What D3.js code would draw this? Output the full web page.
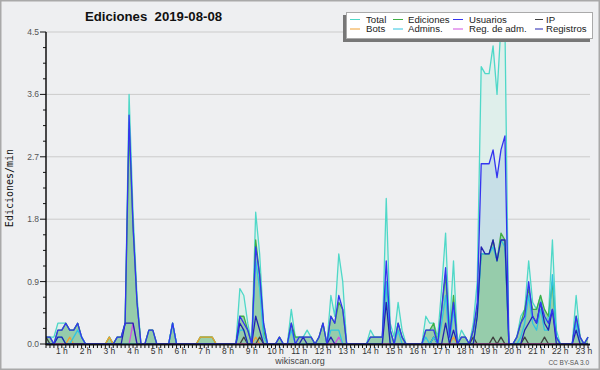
<!DOCTYPE html>
<meta charset="utf-8">
<title>Ediciones 2019-08-08</title>
<style>
html, body { margin: 0; padding: 0; background: #eeeff1; overflow: hidden; }
text { font-family: "Liberation Sans", Arial, sans-serif; }
</style>
<svg id="chart" width="600" height="370"></svg>
<script src="https://d3js.org/d3.v7.min.js"></script>
<script>

// sample times, minutes after midnight (one point every 10 min)
var times = d3.range(20, 1391, 10);

var hourLabels = ["1 h","2 h","3 h","4 h","5 h","6 h","7 h","8 h","9 h","10 h","11 h","12 h",
                  "13 h","14 h","15 h","16 h","17 h","18 h","19 h","20 h","21 h","22 h","23 h"];
var yTicks = [0.0, 0.9, 1.8, 2.7, 3.6, 4.5];

var total = [
  .1,.1,.1,.3,.3,.3,.2,.2,.3,.1,0,0,
  0,0,0,0,.1,0,.1,.1,.3,3.6,1.9,.7,
  0,0,.2,.2,0,0,0,0,.3,0,0,0,
  0,0,0,.1,.1,.1,.1,0,0,0,0,0,
  0,.8,.7,.3,0,1.9,1.3,.3,0,0,0,.1,
  0,0,.5,.1,.1,.1,.2,.1,0,.1,.3,0,
  .7,.4,1.3,.9,0,0,0,0,0,0,.2,.1,
  .1,.1,2.1,.3,.1,.6,.2,0,0,0,0,0,
  .4,.3,.3,.1,.8,1.6,.2,1.2,0,.2,.1,0,
  .3,.9,4.0,3.9,3.9,4.3,3.6,4.6,4.6,0,0,.1,
  .4,.5,1.2,.6,.5,.7,.3,.4,1.5,.2,0,0,
  0,0,.7,.1,0,.1];

var ediciones = [
  .1,.1,0,.2,.2,.3,.2,.2,.3,.1,0,0,
  0,0,0,0,.1,0,.1,.1,.3,3.1,1.7,.6,
  0,0,.2,.2,0,0,0,0,.3,0,0,0,
  0,0,0,.1,.1,.1,.1,0,0,0,0,0,
  0,.4,.4,.2,0,1.5,1.0,.2,0,0,0,.1,
  0,0,.3,.1,.1,.1,.1,.1,0,.1,.3,0,
  .4,.3,.6,.5,0,0,0,0,0,0,.1,.1,
  .1,.1,.9,.2,0,.3,.1,0,0,0,0,0,
  .2,.2,.3,0,.5,1.0,.1,.7,0,.1,.1,0,
  .2,.5,1.3,1.3,1.3,1.5,1.2,1.6,1.5,0,0,.1,
  .3,.5,.8,.5,.5,.7,.5,.4,.9,.1,0,0,
  0,0,.4,.1,0,.1];

var usuarios = [
  .1,.1,0,.2,.2,.3,.2,.2,.3,.1,0,0,
  0,0,0,0,0,0,.1,.1,.3,3.3,1.7,.6,
  0,0,.2,.2,0,0,0,0,.3,0,0,0,
  0,0,0,0,0,0,0,0,0,0,0,0,
  0,.4,.3,.2,0,1.4,1.0,.3,0,0,0,.1,
  0,0,.3,0,.1,.1,.1,.1,0,.1,.3,0,
  .4,.3,.7,.5,0,0,0,0,0,0,.1,.1,
  .1,.1,1.2,.2,0,.3,.1,0,0,0,0,0,
  .2,.2,.2,0,.5,1.1,.1,.6,0,.1,.1,0,
  .2,.6,2.6,2.6,2.6,2.8,2.4,2.8,3.0,0,0,.1,
  .3,.4,.9,.4,.3,.6,.4,.3,.5,.1,0,0,
  0,0,.4,.1,0,.1];

var ip = [
  .1,0,0,0,0,0,0,0,0,0,0,0,
  0,0,0,0,0,0,0,0,0,0,0,0,
  0,0,0,0,0,0,0,0,0,0,0,0,
  0,0,0,0,0,0,0,0,0,0,0,0,
  0,0,.1,0,0,0,.1,0,0,0,0,0,
  0,0,0,0,0,0,0,0,0,0,0,0,
  0,0,0,0,0,0,0,0,0,0,0,0,
  0,0,0,0,0,0,0,0,0,0,0,0,
  0,0,.1,0,0,0,0,0,0,0,0,0,
  .1,0,0,0,0,.1,0,.1,0,0,0,0,
  0,.1,0,0,0,0,.1,0,0,0,0,0,
  0,0,0,0,0,0];

var bots = [
  0,0,0,0,0,0,.1,0,0,0,0,0,
  0,0,0,0,.1,0,0,0,0,0,0,0,
  0,0,0,0,0,0,0,0,0,0,0,0,
  0,0,0,.1,.1,.1,.1,0,0,0,0,0,
  0,0,0,0,0,.1,0,0,0,0,0,0,
  0,0,0,0,0,0,0,0,0,0,0,0,
  0,0,0,0,0,0,0,0,0,0,0,0,
  0,0,0,0,0,0,0,0,0,0,0,0,
  0,0,0,0,0,0,0,.1,0,0,0,0,
  0,0,0,0,0,0,0,0,0,0,0,0,
  0,0,0,0,0,0,0,0,0,0,0,0,
  0,0,0,0,0,0];

var admins = [
  0,0,0,.1,.1,0,0,.1,.2,.1,0,0,
  0,0,0,0,0,0,0,0,0,0,0,0,
  0,0,0,0,0,0,0,0,.3,0,0,0,
  0,0,0,0,0,0,0,0,0,0,0,0,
  0,.2,.2,0,0,1.2,.8,.1,0,0,0,0,
  0,0,.2,0,0,0,0,0,0,0,0,0,
  .2,.2,.2,0,0,0,0,0,0,0,0,0,
  0,0,.9,0,0,.2,0,0,0,0,0,0,
  .1,0,.1,0,.3,.7,0,.5,0,0,0,0,
  0,.4,1.3,1.3,1.3,1.4,1.2,1.5,1.4,0,0,0,
  .1,.3,.7,.3,.2,.5,.2,.2,1.0,.1,0,0,
  0,0,.3,0,0,0];

var regAdm = [
  0,0,0,0,0,0,0,0,0,0,0,0,
  0,0,0,0,0,0,0,0,0,0,.3,0,
  0,0,0,0,0,0,0,0,0,0,0,0,
  0,0,0,0,0,0,0,0,0,0,0,0,
  0,0,0,0,0,0,0,0,0,0,0,0,
  0,0,0,0,0,0,0,0,0,0,0,0,
  0,0,.1,0,0,0,0,0,0,0,0,0,
  0,0,0,0,0,0,0,0,0,0,0,0,
  0,0,0,0,0,0,0,0,0,0,0,0,
  0,0,0,0,0,0,0,0,0,0,0,0,
  0,0,0,0,0,0,0,0,0,0,0,0,
  0,0,0,0,0,0];

var registros = [
  0,0,0,.1,.1,0,0,0,0,0,0,0,
  0,0,0,0,0,0,0,0,.3,.3,.3,0,
  0,0,0,0,0,0,0,0,0,0,0,0,
  0,0,0,0,0,0,0,0,0,0,0,0,
  0,.3,.2,0,0,.4,.2,0,0,0,0,0,
  0,0,0,0,0,.1,0,0,0,0,0,0,
  .1,0,0,0,0,0,0,0,0,0,0,0,
  0,0,.6,0,0,0,0,0,0,0,0,0,
  0,0,0,0,0,.3,0,.2,0,0,0,0,
  0,.4,1.4,1.3,1.3,1.5,1.2,1.5,1.5,0,0,0,
  0,.2,.3,.4,.3,.6,.3,.2,.5,0,0,0,
  0,0,.2,0,0,0];

var series = [
  {name: "Total",        values: total,     color: "#4fd8c8", fill: "#dcefea"},
  {name: "Ediciones",    values: ediciones, color: "#3fae45", fill: "#8dc9a0"},
  {name: "Usuarios",     values: usuarios,  color: "#3434f0", fill: "#c3dce6"},
  {name: "IP",           values: ip,        color: "#404040"},
  {name: "Bots",         values: bots,      color: "#f0a030"},
  {name: "Admins.",      values: admins,    color: "#30c4e0"},
  {name: "Reg. de adm.", values: regAdm,    color: "#d050e0"},
  {name: "Registros",    values: registros, color: "#2222b0"}
];
var byName = {};
series.forEach(function(s) { byName[s.name] = s; });

var svg = d3.select("#chart");
var W = 600, H = 370;

svg.append("rect").attr("x", 0.75).attr("y", 0.75).attr("width", W - 1.5).attr("height", H - 1.5)
   .attr("fill", "#eeeff1").attr("stroke", "#a9a9a9").attr("stroke-width", 1.5);

var pl = 46, pr = 590, pt = 32, pb = 344;

var x = d3.scaleLinear().domain([20, 1395]).range([pl, pr]);
var y = d3.scaleLinear().domain([0, 4.5]).range([pb, pt]);

// grid
svg.append("g").selectAll("line").data(yTicks.slice(1)).enter().append("line")
   .attr("x1", pl).attr("x2", pr)
   .attr("y1", function(d) { return y(d); }).attr("y2", function(d) { return y(d); })
   .attr("stroke", "#cbcbcb").attr("stroke-width", 1);

svg.append("clipPath").attr("id", "plotclip").append("rect")
   .attr("x", pl).attr("y", pt).attr("width", pr - pl).attr("height", pb - pt);

var plot = svg.append("g").attr("clip-path", "url(#plotclip)");

function area(vals) {
  return d3.area()
    .x(function(d, i) { return x(times[i]); })
    .y0(y(0)).y1(function(d) { return y(d); })(vals);
}
function line(vals) {
  return d3.line()
    .x(function(d, i) { return x(times[i]); })
    .y(function(d) { return y(d); })(vals);
}

// filled areas
["Total", "Usuarios", "Ediciones"].forEach(function(n) {
  var s = byName[n];
  plot.append("path").attr("d", area(s.values)).attr("fill", s.fill).attr("fill-opacity", 0.85);
});

// lines
["Total", "Ediciones", "Bots", "IP", "Reg. de adm.", "Admins.", "Registros", "Usuarios"].forEach(function(n) {
  var s = byName[n];
  plot.append("path").attr("d", line(s.values))
    .attr("fill", "none").attr("stroke", s.color).attr("stroke-width", 1.3)
    .attr("stroke-linejoin", "round");
});

// y axis
var yMinor = d3.range(0, 4.5001, 0.225);
svg.append("g").selectAll("line").data(yMinor).enter().append("line")
   .attr("x1", function(d, i) { return i % 4 === 0 ? pl - 6 : pl - 3; }).attr("x2", pl)
   .attr("y1", function(d) { return y(d); }).attr("y2", function(d) { return y(d); })
   .attr("stroke", "#111").attr("stroke-width", 1);
svg.append("line").attr("x1", pl).attr("x2", pl).attr("y1", pt).attr("y2", pb + 1)
   .attr("stroke", "#111").attr("stroke-width", 1.5);
svg.append("g").selectAll("text").data(yTicks).enter().append("text")
   .attr("x", pl - 7).attr("y", function(d) { return y(d) + 3; })
   .attr("text-anchor", "end").attr("font-size", 8.5).attr("fill", "#555")
   .text(function(d) { return d.toFixed(1); });

svg.append("text")
   .attr("transform", "translate(13,188) rotate(-90)")
   .attr("text-anchor", "middle")
   .style("font-family", "'DejaVu Sans Mono', monospace").attr("font-size", 10).attr("fill", "#111")
   .text("Ediciones/min");

// x axis
var xTicks = d3.range(20, 1396, 10);
svg.append("g").selectAll("line").data(xTicks).enter().append("line")
   .attr("x1", function(d) { return x(d); }).attr("x2", function(d) { return x(d); })
   .attr("y1", pb).attr("y2", pb + 4)
   .attr("stroke", "#111").attr("stroke-width", 1);
svg.append("line").attr("x1", pl).attr("x2", pr).attr("y1", pb + 0.5).attr("y2", pb + 0.5)
   .attr("stroke", "#111").attr("stroke-width", 2);
svg.append("g").selectAll("text").data(hourLabels).enter().append("text")
   .attr("x", function(d, i) { return x((i + 1) * 60); }).attr("y", 353.5)
   .attr("text-anchor", "middle").attr("font-size", 8.5).attr("fill", "#333")
   .text(function(d) { return d; });

// titles
svg.append("text").attr("x", 85).attr("y", 21)
   .attr("font-size", 13.2).attr("font-weight", "bold").attr("fill", "#111")
   .style("white-space", "pre").text("Ediciones  2019-08-08");

svg.append("text").attr("x", 300).attr("y", 364)
   .attr("text-anchor", "middle").attr("font-size", 9).attr("fill", "#444")
   .text("wikiscan.org");
svg.append("text").attr("x", 589).attr("y", 364.5)
   .attr("text-anchor", "end").attr("font-size", 6.5).attr("fill", "#555")
   .text("CC BY-SA 3.0");

// legend
var lg = svg.append("g");
lg.append("rect").attr("x", 343).attr("y", 15).attr("width", 247).attr("height", 27).attr("fill", "#777");
lg.append("rect").attr("x", 346.5).attr("y", 12.5).attr("width", 246).attr("height", 26)
  .attr("fill", "#fff").attr("stroke", "#aaa").attr("stroke-width", 1);
var legendOrder = ["Total", "Ediciones", "Usuarios", "IP", "Bots", "Admins.", "Reg. de adm.", "Registros"];
var colX = [350, 393, 453, 535];
var textX = [366, 408, 469, 546];
legendOrder.forEach(function(n, i) {
  var s = byName[n], c = i % 4, r = Math.floor(i / 4);
  var yy = r === 0 ? 19.5 : 29;
  lg.append("line").attr("x1", colX[c]).attr("x2", c === 3 ? colX[c] + 8 : colX[c] + 10)
    .attr("y1", yy).attr("y2", yy)
    .attr("stroke", s.color).attr("stroke-width", 1);
  lg.append("text").attr("x", textX[c]).attr("y", yy + 3.3)
    .attr("font-size", 9.6).attr("fill", "#222").text(n);
});

</script>
